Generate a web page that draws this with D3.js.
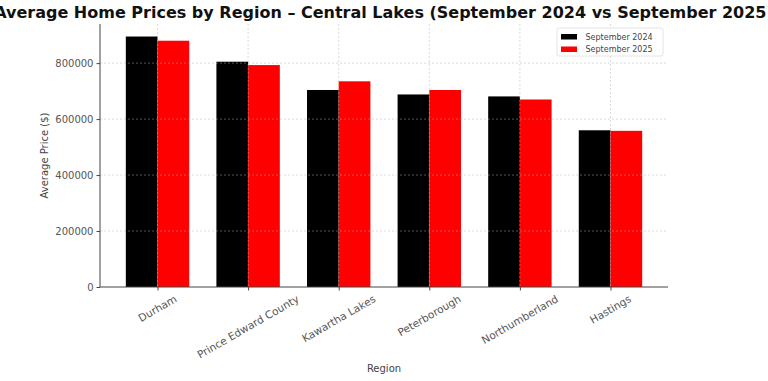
<!DOCTYPE html>
<html>
<head>
<meta charset="utf-8">
<script src="https://cdn.jsdelivr.net/npm/d3@7"></script>
<style>
  body { margin: 0; background: #fff; }
  svg { display: block; font-family: "DejaVu Sans", sans-serif; }
</style>
</head>
<body>
<div id="chart"></div>
<script>
// values
const regions = ["Durham", "Prince Edward County", "Kawartha Lakes", "Peterborough", "Northumberland", "Hastings"];
const seriesNames = ["September 2024", "September 2025"];
const sep2024 = [895000, 805000, 704000, 688000, 681000, 560000];
const sep2025 = [880000, 793000, 735000, 704000, 670000, 558000];
const yTicks = [0, 200000, 400000, 600000, 800000];
const colors = ["#000000", "#ff0000"];

const width = 768, height = 381;
const margin = {top: 24, right: 100, bottom: 94, left: 100};
const barW = 0.35;

const svg = d3.select("#chart").append("svg")
  .attr("width", width)
  .attr("height", height);

// linear x in "category units", like matplotlib does it
const x = d3.scaleLinear()
  .domain([-0.635, regions.length - 1 + 0.635])
  .range([margin.left, width - margin.right]);

const yMax = d3.max([...sep2024, ...sep2025]) * 1.05;
const y = d3.scaleLinear()
  .domain([0, yMax])
  .range([height - margin.bottom, margin.top]);

const series = [sep2024, sep2025];

// bars
series.forEach((vals, s) => {
  svg.append("g")
    .selectAll("rect")
    .data(vals)
    .join("rect")
      .attr("x", (d, i) => x(i + (s === 0 ? -barW : 0)))
      .attr("width", x(barW) - x(0))
      .attr("y", d => y(d))
      .attr("height", d => y(0) - y(d))
      .attr("fill", colors[s]);
});

// grid (on top of bars, as in the original)
const grid = svg.append("g")
  .attr("stroke", "#b0b0b0")
  .attr("stroke-opacity", 0.6)
  .attr("stroke-width", 0.8)
  .attr("stroke-dasharray", "2,2");
grid.selectAll(".hg")
  .data(yTicks.slice(1))
  .join("line")
    .attr("x1", x.range()[0]).attr("x2", x.range()[1])
    .attr("y1", d => y(d)).attr("y2", d => y(d));
grid.selectAll(".vg")
  .data(d3.range(regions.length))
  .join("line")
    .attr("x1", d => x(d)).attr("x2", d => x(d))
    .attr("y1", y.range()[1]).attr("y2", y(0));

// y axis
const yAxis = svg.append("g")
  .attr("transform", `translate(${margin.left},0)`)
  .call(d3.axisLeft(y).tickValues(yTicks).tickFormat(d3.format("d")).tickSizeOuter(0).tickSize(3.5).tickPadding(3));
yAxis.select(".domain").attr("stroke", "#444").attr("d", `M0,${y.range()[1]}V${y(0)}`);
yAxis.selectAll(".tick line").attr("stroke", "#444");
yAxis.selectAll("text").attr("font-size", 10).attr("fill", "#555").attr("font-family", "DejaVu Sans");

// x axis
const xAxis = svg.append("g")
  .attr("transform", `translate(0,${y(0)})`)
  .call(d3.axisBottom(x).tickValues(d3.range(regions.length)).tickFormat("").tickSizeOuter(0).tickSize(3.5));
xAxis.select(".domain").attr("stroke", "#444").attr("d", `M${x.range()[0]},0H${x.range()[1]}`);
xAxis.selectAll(".tick line").attr("stroke", "#444");

// rotated tick labels, centered under the tick (matplotlib rotation=30)
const labelTop = y(0) + 7;
const ang = 30 * Math.PI / 180;
svg.append("g")
  .selectAll("text")
  .data(regions)
  .join("text")
    .attr("font-size", 10.5)
    .attr("fill", "#555")
    .attr("text-anchor", "middle")
    .attr("dy", "0.35em")
    .text(d => d)
    .each(function(d, i) {
      const L = this.getComputedTextLength();
      const h = 9;
      const bh = L * Math.sin(ang) + h * Math.cos(ang);
      const cx = x(i), cy = labelTop + bh / 2;
      d3.select(this).attr("transform", `translate(${cx},${cy}) rotate(-30)`);
    });

// axis titles
svg.append("text")
  .attr("x", (x.range()[0] + x.range()[1]) / 2)
  .attr("y", 372)
  .attr("text-anchor", "middle")
  .attr("font-size", 10)
  .attr("fill", "#444")
  .text("Region");

svg.append("text")
  .attr("transform", `translate(48,${(y.range()[0] + y.range()[1]) / 2}) rotate(-90)`)
  .attr("text-anchor", "middle")
  .attr("font-size", 10)
  .attr("fill", "#444")
  .text("Average Price ($)");

// title
svg.append("text")
  .attr("x", (x.range()[0] + x.range()[1]) / 2)
  .attr("y", 18)
  .attr("text-anchor", "middle")
  .attr("font-size", 16)
  .attr("font-weight", "bold")
  .attr("fill", "#111")
  .text("Average Home Prices by Region – Central Lakes (September 2024 vs September 2025)");

// legend
const lg = svg.append("g").attr("transform", "translate(557,28)");
lg.append("rect")
  .attr("width", 106).attr("height", 28).attr("rx", 2)
  .attr("fill", "#fff").attr("fill-opacity", 0.8)
  .attr("stroke", "#ddd").attr("stroke-width", 0.8);
seriesNames.forEach((name, s) => {
  lg.append("rect")
    .attr("x", 4).attr("y", 6 + s * 12.5)
    .attr("width", 16).attr("height", 5.5)
    .attr("fill", colors[s]);
  lg.append("text")
    .attr("x", 28.5).attr("y", 8.8 + s * 12.5)
    .attr("dy", "0.35em")
    .attr("font-size", 8)
    .attr("fill", "#444")
    .text(name);
});
</script>
</body>
</html>
